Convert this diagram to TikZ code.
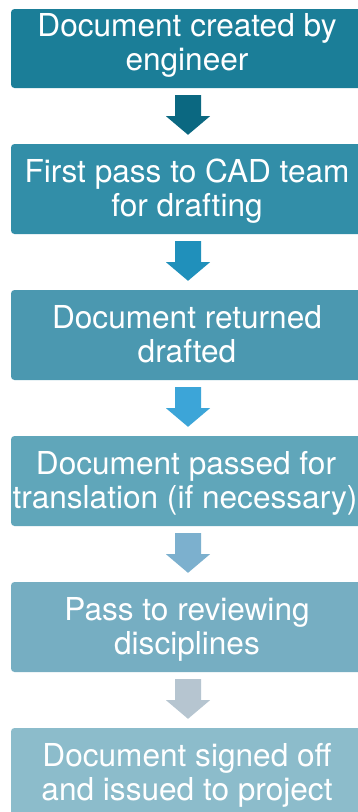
\documentclass[tikz,border=0pt]{standalone}
\usepackage{fontspec}
\setmainfont{TeX Gyre Heros}
\usetikzlibrary{calc}
\definecolor{bxa}{HTML}{1B7E98}
\definecolor{bxb}{HTML}{328EA8}
\definecolor{bxc}{HTML}{4B98B0}
\definecolor{bxd}{HTML}{60A6BA}
\definecolor{bxe}{HTML}{76AEC2}
\definecolor{bxf}{HTML}{8CBCCB}
\definecolor{ara}{HTML}{0B6881}
\definecolor{arb}{HTML}{2090BB}
\definecolor{arc}{HTML}{3CA5D8}
\definecolor{ard}{HTML}{7CB0CE}
\definecolor{are}{HTML}{B6C5D0}
\tikzset{
  x=1pt, y=1pt,
  box/.style={rectangle, rounded corners=3.5pt, minimum width=354pt, minimum height=90pt, inner sep=0pt, draw=none},
  lbl/.style={anchor=base, inner sep=0pt, text=white, font=\fontsize{31.6}{34}\selectfont},
}
% block arrow between two boxes
\newcommand{\blockarrow}[3]{%
  \fill[#3] ($(#1.south)+(-13,-7)$) -- ($(#1.south)+(13,-7)$) -- ($(#1.south)+(13,-28)$)
    -- ($(#1.south)+(22,-28)$) -- ($(#2.north)+(0,9)$) -- ($(#1.south)+(-22,-28)$)
    -- ($(#1.south)+(-13,-28)$) -- cycle;}
\begin{document}
\begin{tikzpicture}
\useasboundingbox (0,0) rectangle (358,-812);
\fill[white] (0,0) rectangle (358,-812);
\begin{scope}
\clip (0,0) rectangle (358,-812);
\node[box, fill=bxa, minimum height=79pt] (b1) at (188,-48.5) {};
\node[box, fill=bxb] (b2) at (188,-189) {};
\node[box, fill=bxc] (b3) at (188,-335) {};
\node[box, fill=bxd] (b4) at (188,-481) {};
\node[box, fill=bxe] (b5) at (188,-627) {};
\node[box, fill=bxf] (b6) at (188,-773) {};

\node[lbl] (t1a) at ($(b1.south)+(-1,52)$) {Document created by};
\node[lbl] (t1b) at ($(b1.south)+(-1,18)$) {engineer};
\node[lbl] (t2a) at ($(b2.south)+(-1,52)$) {First pass to CAD team};
\node[lbl] (t2b) at ($(b2.south)+(-1,18)$) {for drafting};
\node[lbl] (t3a) at ($(b3.south)+(-1,52)$) {Document returned};
\node[lbl] (t3b) at ($(b3.south)+(-1,18)$) {drafted};
\node[lbl] (t4a) at ($(b4.south)+(-2,52)$) {Document passed for};
\node[lbl] (t4b) at ($(b4.south)+(-3,18)$) {translation (if necessary)};
\node[lbl] (t5a) at ($(b5.south)+(-1,52)$) {Pass to reviewing};
\node[lbl] (t5b) at ($(b5.south)+(-1,18)$) {disciplines};
\node[lbl] (t6a) at ($(b6.south)+(-1,52)$) {Document signed off};
\node[lbl] (t6b) at ($(b6.south)+(-1,18)$) {and issued to project};

\blockarrow{b1}{b2}{ara}
\blockarrow{b2}{b3}{arb}
\blockarrow{b3}{b4}{arc}
\blockarrow{b4}{b5}{ard}
\blockarrow{b5}{b6}{are}
\end{scope}
\end{tikzpicture}
\end{document}
